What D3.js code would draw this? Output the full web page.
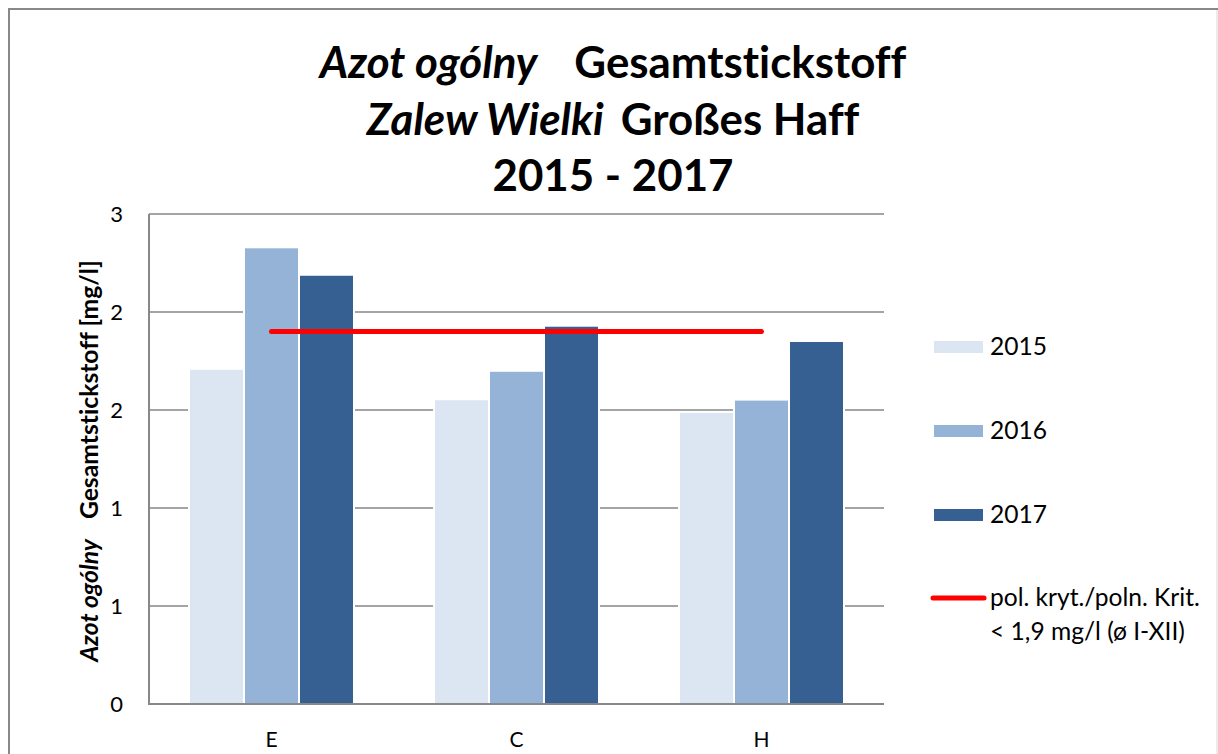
<!DOCTYPE html>
<html><head><meta charset="utf-8">
<script src="https://cdn.jsdelivr.net/npm/d3@7"></script>
<style>
html,body{margin:0;padding:0;background:#fff;}
svg text{font-family:Lato,"Open Sans",sans-serif;fill:#000;white-space:pre;font-variant-ligatures:none;font-feature-settings:"liga" 0;}
</style></head>
<body>
<svg id="c" width="1218" height="754"></svg>
<script>
// ---- data ----
const categories = ["E", "C", "H"];
const years = ["2015", "2016", "2017"];
const values2015 = [1.71, 1.555, 1.49];
const values2016 = [2.33, 1.70, 1.553];
const values2017 = [2.19, 1.93, 1.852];
const criterionValue = 1.9;
const criterionLabel = ["pol. kryt./poln. Krit.", "< 1,9 mg/l (ø I-XII)"];
const yTickValues = [0, 0.5, 1, 1.5, 2, 2.5];
const yTickLabels = ["0", "1", "1", "2", "2", "3"];
const titleLines = [["Azot ogólny", "Gesamtstickstoff"], ["Zalew Wielki", "Großes Haff"], ["", "2015 - 2017"]];
const yAxisTitle = ["Azot ogólny", "Gesamtstickstoff [mg/l]"];
const colors = ["#DCE6F2", "#95B3D7", "#376092"];

const series = [values2015, values2016, values2017];
const svg = d3.select("#c");

// frame
svg.append("line").attr("x1", 9).attr("y1", 9).attr("x2", 9).attr("y2", 760).attr("stroke", "#888").attr("stroke-width", 2);
svg.append("line").attr("x1", 8).attr("y1", 9).attr("x2", 1218).attr("y2", 9).attr("stroke", "#888").attr("stroke-width", 2);
svg.append("line").attr("x1", 1217).attr("y1", 10).attr("x2", 1217).attr("y2", 754).attr("stroke", "#e6e6e6").attr("stroke-width", 1.5);

const L = 149, R = 884, T = 214, B = 704;
const y = d3.scaleLinear().domain([0, 2.5]).range([B, T]);
const pi = 80 / 245;
const x0 = d3.scaleBand().domain(categories).range([L, R]).paddingInner(pi).paddingOuter(pi / 2);
const x1 = d3.scaleBand().domain(years).range([0, x0.bandwidth()]);

// gridlines
svg.append("g").selectAll("line").data(yTickValues.slice(1)).join("line")
  .attr("x1", L).attr("x2", R).attr("y1", d => y(d)).attr("y2", d => y(d))
  .attr("stroke", "#868686").attr("stroke-width", 1.6);

// bars
const g = svg.append("g");
categories.forEach((c, ci) => {
  years.forEach((yr, si) => {
    const v = series[si][ci];
    g.append("rect")
      .attr("x", x0(c) + x1(yr)).attr("width", x1.bandwidth())
      .attr("y", y(v)).attr("height", y(0) - y(v))
      .attr("fill", colors[si]).attr("stroke", "#fff").attr("stroke-width", 2);
  });
});

// axes
const yAxis = d3.axisLeft(y).tickValues(yTickValues).tickSize(0).tickPadding(26)
  .tickFormat((d, i) => yTickLabels[i]);
const ya = svg.append("g").attr("transform", `translate(${L},0)`).call(yAxis);
ya.select(".domain").remove();
ya.selectAll("text").attr("font-size", 22).attr("font-family", "Lato").attr("fill", "#000");
svg.append("line").attr("x1", L).attr("x2", L).attr("y1", T).attr("y2", B + 1).attr("stroke", "#888").attr("stroke-width", 2);

const xAxis = d3.axisBottom(x0).tickSize(0).tickPadding(28);
const xa = svg.append("g").attr("transform", `translate(0,${B})`).call(xAxis);
xa.select(".domain").remove();
xa.selectAll("text").attr("font-size", 21).attr("font-family", "Lato").attr("fill", "#000").attr("dy", "0.71em");
svg.append("line").attr("x1", L - 1).attr("x2", R).attr("y1", B).attr("y2", B).attr("stroke", "#888").attr("stroke-width", 2);

// criterion line
const cx0 = x0(categories[0]) + x0.bandwidth() / 2;
const cx1 = x0(categories[categories.length - 1]) + x0.bandwidth() / 2;
svg.append("line").attr("x1", cx0).attr("x2", cx1).attr("y1", y(criterionValue)).attr("y2", y(criterionValue))
  .attr("stroke", "#FF0000").attr("stroke-width", 5).attr("stroke-linecap", "round");

// title
function fitSize(txt, weight, style, target, base) {
  const t = svg.append("text").attr("font-size", base).attr("font-weight", weight).attr("font-style", style).text(txt);
  const w = t.node().getComputedTextLength();
  t.remove();
  return base * target / w;
}
const tSize = fitSize("Gesamtstickstoff", "bold", "normal", 332, 36);
const titleBaselines = [78, 135, 191];
const titleGaps = [37, 17, 0];
titleLines.forEach((ln, i) => {
  const t = svg.append("text").attr("x", 613).attr("y", titleBaselines[i]).attr("text-anchor", "middle")
    .attr("font-size", tSize).attr("font-weight", "bold");
  if (ln[0]) t.append("tspan").attr("font-style", "italic").text(ln[0]);
  t.append("tspan").attr("dx", ln[0] ? titleGaps[i] : 0).text(ln[1]);
});

// y-axis title
const yaSize = fitSize(yAxisTitle[1], "bold", "normal", 259, 18);
const yt = svg.append("text").attr("transform", `translate(98,${(T + B) / 2 + 2}) rotate(-90)`)
  .attr("text-anchor", "middle").attr("font-size", yaSize).attr("font-weight", "bold");
yt.append("tspan").attr("font-style", "italic").text(yAxisTitle[0]);
yt.append("tspan").attr("dx", 20).text(yAxisTitle[1]);

// legend
const lgSize = fitSize(criterionLabel[0], "normal", "normal", 210, 20);
const legY = [347, 431, 515];
years.forEach((yr, i) => {
  svg.append("rect").attr("x", 934).attr("y", legY[i] - 6).attr("width", 49).attr("height", 12).attr("fill", colors[i]);
  svg.append("text").attr("x", 990).attr("y", legY[i] + 8).attr("font-size", lgSize).text(yr);
});
svg.append("line").attr("x1", 933).attr("x2", 984).attr("y1", 598).attr("y2", 598)
  .attr("stroke", "#FF0000").attr("stroke-width", 5).attr("stroke-linecap", "round");
criterionLabel.forEach((s, i) => {
  svg.append("text").attr("x", 990).attr("y", 606 + i * 34).attr("font-size", lgSize).text(s);
});
</script>
</body></html>
